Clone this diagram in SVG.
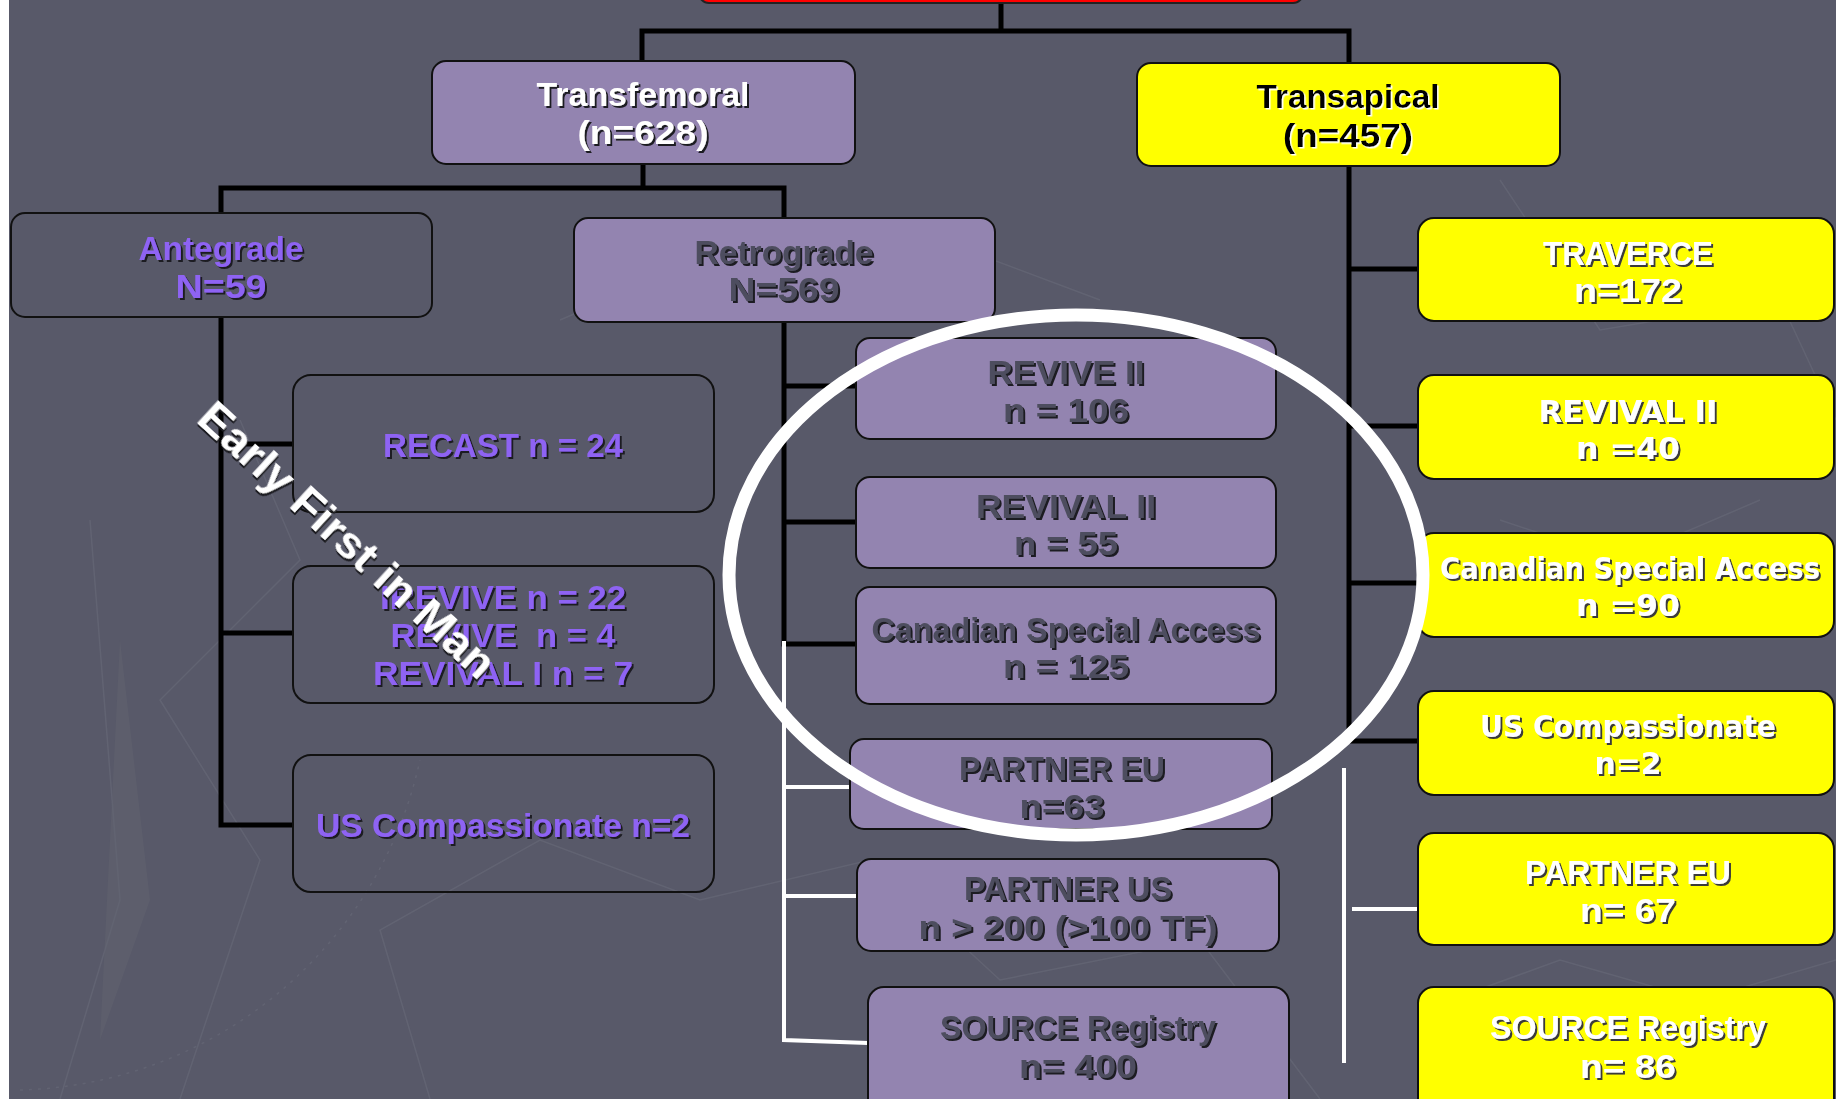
<svg xmlns="http://www.w3.org/2000/svg" width="1836" height="1099" viewBox="0 0 1836 1099">
<defs>
<filter id="sd" x="-10%" y="-30%" width="120%" height="160%"><feDropShadow dx="2" dy="2" stdDeviation="0" flood-color="#1c1c24" flood-opacity="1"/></filter>
<filter id="sy" x="-10%" y="-30%" width="120%" height="160%"><feDropShadow dx="2" dy="2" stdDeviation="0" flood-color="#3a3a3a" flood-opacity="1"/></filter>
<filter id="sw" x="-10%" y="-30%" width="120%" height="160%"><feDropShadow dx="1.5" dy="1.5" stdDeviation="0" flood-color="#ffffff" flood-opacity="1"/></filter>
<style>
.bg{fill:none;stroke:#6a6b7a;stroke-width:1.5;opacity:.55}
.lav{fill:#9384b0;stroke:#111;stroke-width:2}
.yel{fill:#ffff00;stroke:#111;stroke-width:2}
.dk{fill:none;stroke:#111;stroke-width:2}
.cb{fill:none;stroke:#000;stroke-width:5}
.cw{fill:none;stroke:#fff;stroke-width:4}
.t{font-family:"Liberation Sans",Arial,sans-serif;font-weight:bold;font-size:34px;text-anchor:middle}
.w{font-family:"DejaVu Sans",Verdana,sans-serif;font-weight:bold;font-size:30px;text-anchor:middle;fill:#fff;filter:url(#sy)}
.tw{fill:#fff;filter:url(#sd)}
.tg{fill:#4e4e5e;filter:url(#sd)}
.tp{fill:#8e63f3;filter:url(#sd)}
.tb{fill:#000;filter:url(#sw)}
.ty{fill:#fff;filter:url(#sy)}
</style>
</defs>
<rect x="0" y="0" width="1836" height="1099" fill="#585969"/>
<rect x="0" y="0" width="9" height="1099" fill="#ffffff"/>
<g id="background">
<polyline class="bg" points="90,520 120,900 60,1099"/>
<polyline class="bg" points="180,1099 260,860 160,700 300,560 240,420"/>
<polyline class="bg" points="430,1099 380,930 540,840 700,900 870,860 1000,980 1200,940 1320,1099"/>
<polyline class="bg" points="560,320 700,260 940,240 1100,300"/>
<polyline class="bg" points="1500,180 1600,330 1780,300 1836,420"/>
<polyline class="bg" points="1450,1000 1560,960 1700,1000 1836,960"/>
<polyline class="bg" points="1500,520 1620,560 1760,500"/>
<path class="bg" d="M 20 1090 A 420 420 0 0 0 420 760" stroke-dasharray="3 6" stroke-width="10"/>
<polygon points="120,640 150,900 100,1040" fill="#62636f" opacity=".5"/>
</g>
<g id="connectors">
<polyline class="cb" points="1001,3 1001,31"/>
<polyline class="cb" points="642,61 642,31 1349,31 1349,63"/>
<polyline class="cb" points="643,164 643,188"/>
<polyline class="cb" points="221,213 221,188 784,188 784,218"/>
<polyline class="cb" points="221,317 221,825 293,825"/>
<line class="cb" x1="221" y1="444" x2="293" y2="444"/>
<line class="cb" x1="221" y1="633" x2="293" y2="633"/>
<polyline class="cb" points="784,322 784,644 856,644"/>
<line class="cb" x1="784" y1="386" x2="856" y2="386"/>
<line class="cb" x1="784" y1="522" x2="856" y2="522"/>
<polyline class="cw" points="784,641 784,1040 868,1043"/>
<line class="cw" x1="784" y1="787" x2="850" y2="787"/>
<line class="cw" x1="784" y1="896" x2="857" y2="896"/>
<polyline class="cb" points="1349,166 1349,741 1418,741"/>
<line class="cb" x1="1349" y1="269" x2="1418" y2="269"/>
<line class="cb" x1="1349" y1="426" x2="1418" y2="426"/>
<line class="cb" x1="1349" y1="583" x2="1418" y2="583"/>
<line class="cw" x1="1344" y1="768" x2="1344" y2="1063"/>
<line class="cw" x1="1352" y1="909" x2="1419" y2="909"/>
</g>
<g id="root"><rect x="699" y="-30" width="604" height="33" rx="10" fill="#ff0000" stroke="#222" stroke-width="2"/></g>
<g id="transfemoral"><rect class="lav" x="432" y="61" width="423" height="103" rx="14"/>
<text class="t tw" x="643" y="106" textLength="213" lengthAdjust="spacingAndGlyphs">Transfemoral</text>
<text class="t tw" x="643" y="144" textLength="131" lengthAdjust="spacingAndGlyphs">(n=628)</text></g>
<g id="transapical"><rect class="yel" x="1137" y="63" width="423" height="103" rx="14"/>
<text class="t tb" x="1348" y="108" textLength="183" lengthAdjust="spacingAndGlyphs">Transapical</text>
<text class="t tb" x="1348" y="147" textLength="130" lengthAdjust="spacingAndGlyphs">(n=457)</text></g>
<g id="antegrade"><rect class="dk" x="11" y="213" width="421" height="104" rx="14"/>
<text class="t tp" x="221" y="260" textLength="165" lengthAdjust="spacingAndGlyphs">Antegrade</text>
<text class="t tp" x="221" y="298" textLength="91" lengthAdjust="spacingAndGlyphs">N=59</text></g>
<g id="retrograde"><rect class="lav" x="574" y="218" width="421" height="104" rx="14"/>
<text class="t tg" x="784" y="264" textLength="179" lengthAdjust="spacingAndGlyphs">Retrograde</text>
<text class="t tg" x="784" y="301" textLength="111" lengthAdjust="spacingAndGlyphs">N=569</text></g>
<g id="recast"><rect class="dk" x="293" y="375" width="421" height="137" rx="18"/>
<text class="t tp" x="503" y="457" textLength="240" lengthAdjust="spacingAndGlyphs">RECAST n = 24</text></g>
<g id="irevive"><rect class="dk" x="293" y="566" width="421" height="137" rx="18"/>
<text class="t tp" x="503" y="609" textLength="246" lengthAdjust="spacingAndGlyphs">IREVIVE n = 22</text>
<text class="t tp" x="503" y="647" textLength="225" lengthAdjust="spacingAndGlyphs" xml:space="preserve">REVIVE  n = 4</text>
<text class="t tp" x="503" y="685" textLength="260" lengthAdjust="spacingAndGlyphs">REVIVAL I n = 7</text></g>
<g id="us-comp-tf"><rect class="dk" x="293" y="755" width="421" height="137" rx="18"/>
<text class="t tp" x="503" y="837" textLength="374" lengthAdjust="spacingAndGlyphs">US Compassionate n=2</text></g>
<g id="revive2"><rect class="lav" x="856" y="338" width="420" height="101" rx="14"/>
<text class="t tg" x="1066" y="384" textLength="157" lengthAdjust="spacingAndGlyphs">REVIVE II</text>
<text class="t tg" x="1066" y="422" textLength="126" lengthAdjust="spacingAndGlyphs">n = 106</text></g>
<g id="revival2-tf"><rect class="lav" x="856" y="477" width="420" height="91" rx="14"/>
<text class="t tg" x="1066" y="518" textLength="180" lengthAdjust="spacingAndGlyphs">REVIVAL II</text>
<text class="t tg" x="1066" y="555" textLength="104" lengthAdjust="spacingAndGlyphs">n = 55</text></g>
<g id="canadian-tf"><rect class="lav" x="856" y="587" width="420" height="117" rx="14"/>
<text class="t tg" x="1066" y="641" textLength="389" lengthAdjust="spacingAndGlyphs">Canadian Special Access</text>
<text class="t tg" x="1066" y="678" textLength="126" lengthAdjust="spacingAndGlyphs">n = 125</text></g>
<g id="partner-eu-tf"><rect class="lav" x="850" y="739" width="422" height="90" rx="14"/>
<text class="t tg" x="1062" y="780" textLength="206" lengthAdjust="spacingAndGlyphs">PARTNER EU</text>
<text class="t tg" x="1062" y="818" textLength="85" lengthAdjust="spacingAndGlyphs">n=63</text></g>
<g id="partner-us"><rect class="lav" x="857" y="859" width="422" height="92" rx="14"/>
<text class="t tg" x="1068" y="900" textLength="208" lengthAdjust="spacingAndGlyphs">PARTNER US</text>
<text class="t tg" x="1068" y="939" textLength="299" lengthAdjust="spacingAndGlyphs">n &gt; 200 (&gt;100 TF)</text></g>
<g id="source-tf"><rect class="lav" x="868" y="987" width="421" height="130" rx="16"/>
<text class="t tg" x="1078" y="1039" textLength="276" lengthAdjust="spacingAndGlyphs">SOURCE Registry</text>
<text class="t tg" x="1078" y="1078" textLength="118" lengthAdjust="spacingAndGlyphs">n= 400</text></g>
<g id="traverce"><rect class="yel" x="1418" y="218" width="416" height="103" rx="16"/>
<text class="t ty" x="1628" y="265" textLength="170" lengthAdjust="spacingAndGlyphs">TRAVERCE</text>
<text class="t ty" x="1628" y="302" textLength="108" lengthAdjust="spacingAndGlyphs">n=172</text></g>
<g id="revival2-ta"><rect class="yel" x="1418" y="375" width="416" height="104" rx="16"/>
<text class="w" x="1628" y="422" textLength="179" lengthAdjust="spacingAndGlyphs">REVIVAL II</text>
<text class="w" x="1628" y="459" textLength="104" lengthAdjust="spacingAndGlyphs">n =40</text></g>
<g id="canadian-ta"><rect class="yel" x="1418" y="533" width="416" height="104" rx="16"/>
<text class="w" x="1630" y="579" textLength="380" lengthAdjust="spacingAndGlyphs">Canadian Special Access</text>
<text class="w" x="1628" y="616" textLength="104" lengthAdjust="spacingAndGlyphs">n =90</text></g>
<g id="us-comp-ta"><rect class="yel" x="1418" y="691" width="416" height="104" rx="16"/>
<text class="w" x="1628" y="737" textLength="296" lengthAdjust="spacingAndGlyphs">US Compassionate</text>
<text class="w" x="1628" y="774" textLength="67" lengthAdjust="spacingAndGlyphs">n=2</text></g>
<g id="partner-eu-ta"><rect class="yel" x="1418" y="833" width="416" height="112" rx="16"/>
<text class="t ty" x="1628" y="884" textLength="206" lengthAdjust="spacingAndGlyphs">PARTNER EU</text>
<text class="t ty" x="1628" y="922" textLength="96" lengthAdjust="spacingAndGlyphs">n= 67</text></g>
<g id="source-ta"><rect class="yel" x="1418" y="987" width="416" height="130" rx="16"/>
<text class="t ty" x="1628" y="1039" textLength="276" lengthAdjust="spacingAndGlyphs">SOURCE Registry</text>
<text class="t ty" x="1628" y="1078" textLength="96" lengthAdjust="spacingAndGlyphs">n= 86</text></g>
<g id="highlight"><ellipse cx="1076" cy="575" rx="347" ry="260" fill="none" stroke="#fff" stroke-width="13"/></g>
<g id="early-label"><text class="t tw" x="0" y="0" textLength="385" lengthAdjust="spacingAndGlyphs" transform="translate(347,540) rotate(42.5) translate(0,15)" style="font-size:44px">Early First in Man</text></g>
</svg>
